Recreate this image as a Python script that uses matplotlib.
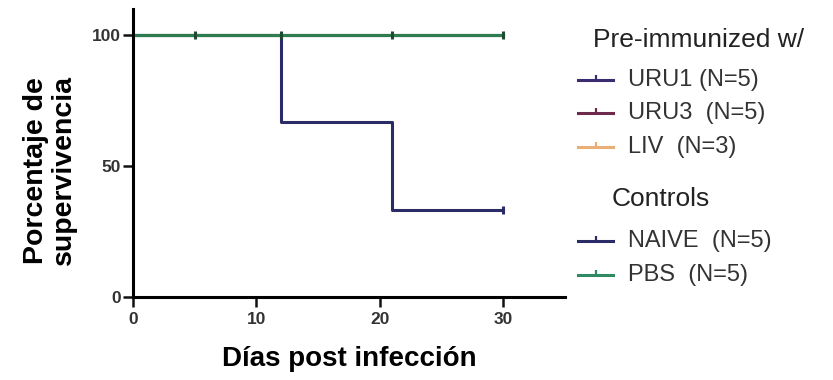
import matplotlib
matplotlib.use('Agg')
import matplotlib.pyplot as plt
from matplotlib.lines import Line2D

plt.rcParams['font.family'] = ['Liberation Sans', 'DejaVu Sans']

# Kaplan-Meier style survival curves (days, percent survival)
days_pbs = [0, 30]
surv_pbs = [100, 100]
cens_pbs = [5, 12, 21, 30]

days_naive = [0, 12, 12, 21, 21, 30]
surv_naive = [100, 100, 66.7, 66.7, 33.3, 33.3]
cens_naive = [30]

days_uru1 = [0, 30]
surv_uru1 = [100, 100]
days_uru3 = [0, 30]
surv_uru3 = [100, 100]
days_liv = [0, 30]
surv_liv = [100, 100]

pre_labels = ['URU1 (N=5)', 'URU3  (N=5)', 'LIV  (N=3)']
pre_colors = ['#3b2c72', '#6e2a4c', '#e8b077']
ctrl_labels = ['NAIVE  (N=5)', 'PBS  (N=5)']
ctrl_colors = ['#2b2b68', '#2f8a62']

fig = plt.figure(figsize=(8.33, 3.8), dpi=100)
ax = fig.add_axes([0.1597, 0.2184, 0.5186, 0.758])

lw = 2.2
ax.plot(days_liv, surv_liv, color=pre_colors[2], lw=lw)
ax.plot(days_uru3, surv_uru3, color=pre_colors[1], lw=lw)
ax.plot(days_uru1, surv_uru1, color=pre_colors[0], lw=lw)
ax.plot(days_naive, surv_naive, color=ctrl_colors[0], lw=lw)
ax.plot(cens_naive, [surv_naive[-1]] * len(cens_naive), ls='none', marker='|',
        ms=6, mew=2.2, color=ctrl_colors[0])
ax.plot(days_pbs, surv_pbs, color='#2e7d50', lw=lw)
ax.plot(cens_pbs, [100] * len(cens_pbs), ls='none', marker='|', ms=6, mew=2.2,
        color='#1d4a30')

ax.set_xlim(0, 35)
ax.set_ylim(0, 110)
ax.set_xticks([0, 10, 20, 30])
ax.set_yticks([0, 50, 100])
for s in ['top', 'right']:
    ax.spines[s].set_visible(False)
for s in ['left', 'bottom']:
    ax.spines[s].set_linewidth(2.2)
ax.tick_params(axis='both', width=1.8, length=7.5, labelsize=12.5, colors='#111111',
               labelcolor='#333333')
ax.tick_params(axis='x', pad=3)
ax.tick_params(axis='y', pad=1)
for t in ax.get_xticklabels() + ax.get_yticklabels():
    t.set_fontweight('bold')

ax.set_xlabel('Días post infección', fontsize=20, fontweight='bold')
ax.xaxis.set_label_coords(0.5, -0.17)
ax.set_ylabel('Porcentaje de\nsupervivencia', fontsize=20.5, fontweight='bold',
              linespacing=1.1)
ax.yaxis.set_label_coords(-0.13, 0.44)

# legend drawn by hand, two groups with their own headings
def fx(px):
    return px / 833

def fy(py):
    return 1 - py / 380

def legend_group(title, title_x, title_y, labels, colors, rows_y):
    fig.text(fx(title_x), fy(title_y), title, fontsize=19, color='#222222',
             ha='left', va='center')
    for lab, col, yy in zip(labels, colors, rows_y):
        fig.add_artist(Line2D([fx(578), fx(613)], [fy(yy), fy(yy)], color=col,
                              lw=2.2, transform=fig.transFigure))
        fig.add_artist(Line2D([fx(595.5)], [fy(yy) + 0.004], color=col, ls='none',
                              marker='|', ms=4, mew=1.6, transform=fig.transFigure))
        fig.text(fx(628), fy(yy), lab, fontsize=17, color='#333333',
                 ha='left', va='center')

legend_group('Pre-immunized w/', 593, 40, pre_labels, pre_colors, [80, 113, 147])
legend_group('Controls', 612, 199, ctrl_labels, ctrl_colors, [241, 275])

fig.savefig('out.png', dpi=100)
